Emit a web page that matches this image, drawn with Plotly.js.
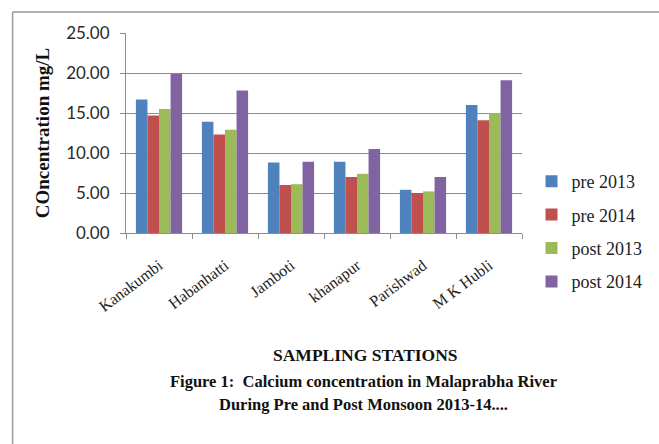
<!DOCTYPE html>
<html>
<head>
<meta charset="utf-8">
<script src="https://cdn.plot.ly/plotly-3.0.1.min.js"></script>
<style>html,body{margin:0;padding:0;background:#fff;}#chart{width:659px;height:444px;}</style>
</head>
<body>
<div id="chart"></div>
<script>
const stations = ["Kanakumbi", "Habanhatti", "Jamboti", "khanapur", "Parishwad", "M K Hubli"];
const pre2013  = [16.7, 13.9, 8.8, 8.9, 5.4, 16.0];
const pre2014  = [14.7, 12.3, 6.0, 7.0, 5.0, 14.1];
const post2013 = [15.5, 12.9, 6.1, 7.4, 5.2, 15.0];
const post2014 = [19.9, 17.8, 8.9, 10.5, 7.0, 19.1];
const seriesNames = ["pre 2013", "pre 2014", "post 2013", "post 2014"];
const colors = ["#4F81BD", "#C0504D", "#9BBB59", "#8064A2"];
const values = [pre2013, pre2014, post2013, post2014];
const yTicks = [0, 5, 10, 15, 20, 25];
const gridVals = [5, 10, 15, 20];

const traces = values.map((v, i) => ({
  type: "bar", x: stations, y: v, name: seriesNames[i], legendgroup: "g" + i,
  marker: {color: colors[i]}, hoverinfo: "skip"
}));
// invisible helper trace to carry the grid-only overlay axis
traces.push({type: "scatter", x: [stations[0]], y: [0], yaxis: "y2", mode: "markers",
  marker: {opacity: 0}, showlegend: false, hoverinfo: "skip"});

const serif = "Liberation Serif, Times New Roman, serif";
const layout = {
  width: 659, height: 444,
  margin: {l: 126, r: 121, t: 33, b: 211},
  paper_bgcolor: "#fff", plot_bgcolor: "#fff",
  barmode: "group", bargap: 0.3, bargroupgap: 0,
  showlegend: true,
  legend: {x: 1.024, xanchor: "left", y: 0.35, yanchor: "top",
    font: {family: serif, size: 18, color: "#222"}, tracegroupgap: 7, bgcolor: "rgba(0,0,0,0)"},
  xaxis: {type: "category", showline: true, linecolor: "#8c8c8c", linewidth: 1,
    ticks: "outside", tickson: "boundaries", ticklen: 5, tickcolor: "#8c8c8c",
    tickangle: -37, ticklabelstandoff: 16,
    tickfont: {family: serif, size: 16, color: "#222"}, showgrid: false},
  yaxis: {range: [0, 25], tickvals: yTicks, tickformat: ".2f", showgrid: false,
    showline: true, linecolor: "#8c8c8c", ticks: "outside", ticklen: 5, tickcolor: "#8c8c8c",
    ticklabelstandoff: 7,
    zeroline: false, tickfont: {family: "Lato, sans-serif", size: 17, color: "#2a2a2a"},
    title: {text: "<b>COncentration mg/L</b>", font: {family: serif, size: 19, color: "#111"}, standoff: 11}},
  yaxis2: {overlaying: "y", range: [0, 25], tickvals: gridVals, showgrid: true, gridcolor: "#8c8c8c",
    showticklabels: false, ticks: "", showline: false, zeroline: false},
  annotations: [
    {xref: "paper", yref: "paper", x: 0.604, y: -0.67, text: "<b>SAMPLING STATIONS</b>", showarrow: false,
      font: {family: serif, size: 17.5, color: "#111"}},
    {xref: "paper", yref: "paper", x: 0.599, y: -0.80, text: "<b>Figure 1:  Calcium concentration in Malaprabha River</b>", showarrow: false,
      font: {family: serif, size: 16.5, color: "#111"}},
    {xref: "paper", yref: "paper", x: 0.6, y: -0.915, text: "<b>During Pre and Post Monsoon 2013-14....</b>", showarrow: false,
      font: {family: serif, size: 16.5, color: "#111"}}
  ],
  shapes: [
    {type: "line", xref: "paper", yref: "paper", x0: -0.2864, x1: 1.4, y0: 1.105, y1: 1.105, line: {color: "#999", width: 1.5}},
    {type: "line", xref: "paper", yref: "paper", x0: -0.2864, x1: -0.2864, y0: 1.105, y1: -1.2, line: {color: "#999", width: 1.5}}
  ]
};
Plotly.newPlot("chart", traces, layout, {displayModeBar: false, staticPlot: true});
</script>
</body>
</html>
